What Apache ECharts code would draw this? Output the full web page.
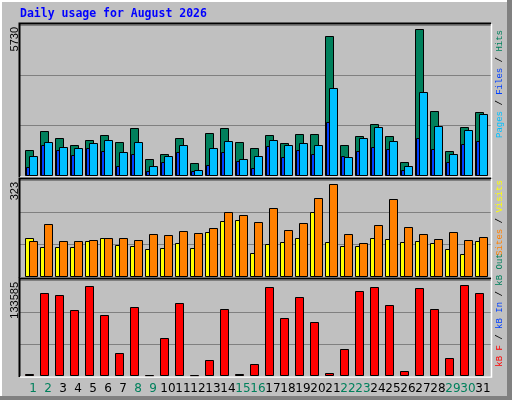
<!DOCTYPE html>
<html><head><meta charset="utf-8">
<script src="https://cdn.jsdelivr.net/npm/echarts@6/dist/echarts.min.js"></script>
<style>html,body{margin:0;padding:0;background:#c0c0c0}#c{width:512px;height:400px}</style>
</head><body><div id="c"></div>
<script>
const days = [1,2,3,4,5,6,7,8,9,10,11,12,13,14,15,16,17,18,19,20,21,22,23,24,25,26,27,28,29,30,31];
const weekend = [1,2,8,9,15,16,22,23,29,30];
const hits  = [1013,1754,1481,1208,1403,1598,1325,1871,663,858,1481,507,1676,1871,1325,1091,1598,1286,1637,1637,5457,1208,1559,2027,1559,546,5730,2534,975,1910,2495];
const pages = [780,1325,1130,1091,1286,1403,935,1325,390,780,1208,234,1091,1364,663,780,1403,1208,1286,1208,3430,741,1481,1910,1364,390,3274,1949,858,1793,2417];
const files = [351,1208,1013,819,1091,975,390,858,195,546,935,195,429,935,585,312,1169,741,1013,858,2105,780,975,1130,1052,234,1481,1052,546,1247,1364];
const visits = [134,103,103,103,124,134,110,107,96,100,117,100,155,193,197,82,114,121,134,225,121,107,107,134,131,121,124,117,96,79,124];
const sites  = [124,183,124,124,127,134,134,127,148,145,159,152,169,225,214,190,239,162,186,273,322,148,117,180,270,173,148,131,155,127,138];
const kbF = [3400,121900,118900,97000,132100,89700,34100,101400,1900,56000,107200,1900,23900,98500,3400,18000,130600,85300,116000,79400,4800,39900,124800,130600,104300,7800,129200,98500,26800,133585,121900];
const maxLabels = ['5730','323','133585'];
const title = 'Daily usage for August 2026';

const chart = echarts.init(document.getElementById('c'), null, {renderer:'canvas'});
const panels = [{top:25,h:151,max:5886},{top:180,h:97,max:337},{top:280,h:96,max:140460}];
const grid = panels.map(p=>({left:20,top:p.top,width:471,height:p.h}));
const xAxis = panels.map((p,i)=>({type:'value',gridIndex:i,min:2/3,max:32+1/15,show:false}));
const yAxis = panels.map((p,i)=>({type:'value',gridIndex:i,min:0,max:p.max,interval:p.max/3,
  axisLabel:{show:false},axisLine:{show:false},axisTick:{show:false},
  splitLine:{show:true,lineStyle:{color:'#808080',width:1}}}));

function barSeries(idx, data, off, w, color){
  return {type:'custom',xAxisIndex:idx,yAxisIndex:idx,data:data.map((v,i)=>[days[i],v]),
    renderItem:(params,api)=>{
      const p=api.coord([api.value(0),api.value(1)]);
      const b=api.coord([api.value(0),0]);
      return {type:'rect',shape:{x:Math.round(p[0])+off+0.5,y:Math.round(p[1])+0.5,width:w,height:Math.max(1,Math.round(b[1]-p[1])-1)},
        style:{fill:color,stroke:'#000',lineWidth:1}};
    }};
}
const series = [
  barSeries(0,hits,0,8,'#00805c'),
  barSeries(0,files,1,3,'#0040ff'),
  barSeries(0,pages,4,8,'#00c0ff'),
  barSeries(1,visits,0,8,'#ffff00'),
  barSeries(1,sites,4,8,'#ff8000'),
  barSeries(2,kbF,0,8,'#ff0000'),
  {type:'custom',xAxisIndex:2,yAxisIndex:2,data:days.map(d=>[d,0]),
   renderItem:(params,api)=>{
     const d=api.value(0); const p=api.coord([d,0]);
     return {type:'text',x:p[0]+8,y:p[1]+13,style:{text:String(d),fill:weekend.includes(d)?'#00805c':'#000',
       font:'12px "DejaVu Sans"',align:'center',verticalAlign:'middle'}};
   }}
];

const g = [];
g.push({type:'rect',shape:{x:0,y:0,width:2,height:400},style:{fill:'#fff'},z:10});
g.push({type:'rect',shape:{x:0,y:0,width:512,height:2},style:{fill:'#fff'},z:10});
g.push({type:'rect',shape:{x:507,y:0,width:5,height:400},style:{fill:'#808080'},z:10});
g.push({type:'rect',shape:{x:0,y:396,width:512,height:4},style:{fill:'#808080'},z:10});
panels.forEach(p=>{
  const t=p.top-1,b=p.top+p.h+1;
  g.push({type:'polyline',shape:{points:[[19.5,b],[19.5,t-0.5],[491,t-0.5]]},style:{stroke:'#000',lineWidth:2,fill:null},z:10});
  g.push({type:'polyline',shape:{points:[[20,b],[491.5,b],[491.5,t]]},style:{stroke:'#fff',lineWidth:1.5,fill:null},z:10});
});
g.push({type:'text',x:20,y:14,style:{text:title,fill:'#0000ff',font:'bold 11.5px "DejaVu Sans Mono"',verticalAlign:'middle'},z:10});
maxLabels.forEach((s,i)=>{
  g.push({type:'text',x:15,y:panels[i].top+2,rotation:Math.PI/2,style:{text:s,fill:'#000',font:'11px "Liberation Sans"',align:'right',verticalAlign:'middle'},z:10});
});
const F='9px "Liberation Mono"';
function rlabel(y, parts){
  g.push({type:'text',x:500,y:y,rotation:Math.PI/2,z:10,style:{
    text:parts.map(p=>'{'+p[1]+'|'+p[0]+'}').join(''),align:'center',verticalAlign:'middle',font:F,
    rich:{g:{fill:'#00805c',font:F},lb:{fill:'#00c0ff',font:F},db:{fill:'#0040ff',font:F},k:{fill:'#000',font:F},
          y:{fill:'#ffff00',font:F},o:{fill:'#ff8000',font:F},r:{fill:'#ff0000',font:F}}}});
}
rlabel(84,[['Pages','lb'],[' / ','k'],['Files','db'],[' / ','k'],['Hits','g']]);
rlabel(218,[['Sites','o'],[' / ','k'],['Visits','y']]);
rlabel(310,[['kB F','r'],[' / ','k'],['kB In','db'],[' / ','k'],['kB Out','g']]);

chart.setOption({animation:false,backgroundColor:'#c0c0c0',grid,xAxis,yAxis,series,graphic:g});
</script></body></html>
